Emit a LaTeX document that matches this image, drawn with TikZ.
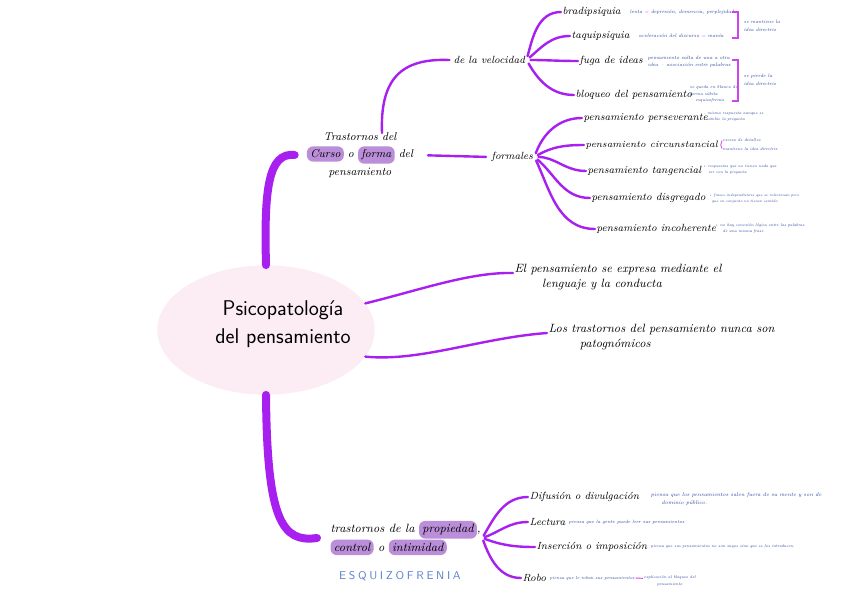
\documentclass[tikz,border=0pt]{standalone}
\usepackage{fontspec}
\usetikzlibrary{shapes.geometric,calc}
\definecolor{brc}{RGB}{168,32,240}
\definecolor{hlc}{RGB}{186,142,216}
\definecolor{pinkbg}{RGB}{252,236,244}
\definecolor{bluet}{RGB}{35,65,155}
\definecolor{pinkc}{RGB}{205,70,235}
\definecolor{esq}{RGB}{95,135,205}
\newcommand\hlw[1]{\tikz[baseline=(hw.base)]\node[shape=rectangle,anchor=base,fill=hlc,rounded corners=4.5pt,inner xsep=2.5pt,inner ysep=2.6pt](hw){#1};}
\newcommand\tsz[2]{\fontsize{#1}{#2}\selectfont}
\tikzset{
  br/.style={draw=brc, line width=1.8pt, line cap=round},
  trunk/.style={draw=brc, line width=6pt, line cap=round},
  lab/.style={font=\fontsize{7.8}{9}\selectfont\itshape, inner sep=1pt, anchor=west},
  big/.style={font=\fontsize{9}{11}\selectfont\itshape, inner sep=1pt},
  tiny/.style={text=bluet, inner sep=0.5pt, anchor=west, align=left},
  brk/.style={draw=pinkc, line width=0.8pt},
}
\begin{document}
\begin{tikzpicture}[x=0.75pt,y=-0.75pt]
\path[use as bounding box, fill=white] (0,0) rectangle (848,599);
% central
\node[ellipse, fill=pinkbg, minimum width=163pt, minimum height=97pt, inner sep=0pt] (blob) at (266,330) {};
\node[font=\sffamily\fontsize{16}{21}\selectfont, align=center] (title) at (283,324) {Psicopatología\\del pensamiento};
% upper branch
\node[big, align=center, font=\fontsize{8.5}{13}\selectfont\itshape] (trast) at (360,155) {Trastornos del\\\hlw{Curso} o \hlw{forma} del\\pensamiento};
\draw[trunk] (blob.north) .. controls (264,190) and (268,152) .. ([xshift=-8pt]trast.west);
\node[lab] (vel) at (452,60) {de la velocidad};
\node[lab] (form) at (490,157) {formales};
\draw[br] ($(trast.north)+(22,2)$) .. controls (380,80) and (400,58) .. ([xshift=-2pt]vel.west);
\draw[br, shorten <=10pt, shorten >=3pt] (trast.east) -- (form.west);
% velocidad
\node[lab] (brad) at (561,12) {bradipsiquia};
\node[lab] (taqui) at (570,36) {taquipsiquia};
\node[lab] (fuga) at (578,61) {fuga de ideas};
\node[lab] (bloq) at (574,95) {bloqueo del pensamiento};
\foreach \t/\o in {brad/75,taqui/40,fuga/0,bloq/-60}
  \draw[br, shorten <=3pt] (vel.east) to[out=\o,in=180] (\t.west);
\node[tiny, font=\tsz{3.7}{5.5}\itshape] (bradD) at (629,12) {lenta \textcolor{pinkc}{=} depresión, demencia, perplejidad};
\node[tiny, font=\tsz{3.7}{5.5}\itshape] (taquiD) at (638,36) {aceleración del discurso \textcolor{pinkc}{=} manía};
\node[tiny, font=\tsz{3.7}{5.5}\itshape] (fugaD) at (647,62) {pensamiento salta de una a otra\\idea · asociación entre palabras};
\node[tiny, font=\tsz{3.2}{4.8}\itshape] (bloqD) at (689,94) {se queda en blanco de\\forma súbita\\\textcolor{pinkc}{·} esquizofrenia};
\draw[brk] (732,12) -- (738,12) -- (738,38) -- (732,38);
\node[tiny, font=\tsz{3.6}{6}\itshape] (br1) at (743,26) {se mantiene la\\idea directriz};
\draw[brk] (732,60) -- (738,60) -- (738,101) -- (732,101);
\node[tiny, font=\tsz{3.6}{6}\itshape] (br2) at (743,80) {se pierde la\\idea directriz};
% formales
\node[lab] (pers) at (582,118) {pensamiento perseverante};
\node[lab, font=\fontsize{7.1}{9}\selectfont\itshape] (circ) at (584,145) {pensamiento circunstancial};
\node[lab] (tang) at (586,171) {pensamiento tangencial};
\node[lab] (disg) at (590,198) {pensamiento disgregado};
\node[lab] (inc) at (595,229) {pensamiento incoherente};
\foreach \t/\o in {pers/70,circ/30,tang/0,disg/-40,inc/-65}
  \draw[br, shorten <=3pt] (form.east) to[out=\o,in=180] (\t.west);
\node[tiny, font=\tsz{3}{4.5}\itshape] (persD) at (703,117) {\textcolor{pinkc}{-} misma respuesta aunque se\\\hspace*{0.6em}cambie la pregunta};
\node[tiny, font=\tsz{3.1}{6.5}\itshape] (circD) at (722,144.5) {exceso de detalles\\mantiene la idea directriz};
\draw[brk, line width=0.6pt] ([xshift=1pt]circ.east) -- ([yshift=3pt]circD.west) ([xshift=1pt]circ.east) -- ([yshift=-3pt]circD.west);
\node[tiny, font=\tsz{2.9}{4.5}\itshape] (tangD) at (702,170) {\textcolor{pinkc}{•} respuestas que no tienen nada que\\\hspace*{1.4em}ver con la pregunta};
\node[tiny, font=\tsz{2.8}{4.5}\itshape] (disgD) at (708,199) {\textcolor{pinkc}{•} frases independientes que se relacionan pero\\\hspace*{0.8em}que en conjunto no tienen sentido};
\node[tiny, font=\tsz{3}{4.5}\itshape] (incD) at (714,229) {\textcolor{pinkc}{•} no hay conexión lógica entre las palabras\\\hspace*{2em}de una misma frase};
% statements
\node[big, anchor=west, align=left] (st1) at (513,277) {El pensamiento se expresa mediante el\\\hspace*{2.3em}lenguaje y la conducta};
\node[big, anchor=west, align=left] (st2) at (547,337) {Los trastornos del pensamiento nunca son\\\hspace*{2.6em}patognómicos};
\draw[br] (blob.15) .. controls (420,290) and (470,272) .. ([yshift=3pt]st1.west);
\draw[br] (blob.-15) .. controls (420,362) and (480,338) .. ([yshift=3pt]st2.west);
% lower branch
\node[big, anchor=west, align=left, font=\fontsize{9}{14}\selectfont\itshape] (prop) at (329,538) {trastornos de la \hlw{propiedad},\\\hlw{control} o \hlw{intimidad}};
\draw[trunk] (blob.south) .. controls (267,520) and (282,543) .. ([xshift=-9pt]prop.west);
\node[font=\sffamily\fontsize{8.5}{9}\selectfont, text=esq, inner sep=1pt] (esqz) at (400,576) {E\kern2pt S\kern2pt Q\kern2pt U\kern2pt I\kern2pt Z\kern2pt O\kern2pt F\kern2pt R\kern2pt E\kern2pt N\kern2pt I\kern2pt A};
\node[lab] (dif) at (528,497) {Difusión o divulgación};
\node[lab] (lect) at (528,522) {Lectura};
\node[lab] (ins) at (535,547) {Inserción o imposición};
\node[lab] (robo) at (521,578) {Robo};
\foreach \t/\o in {dif/60,lect/20,ins/-20,robo/-70}
  \draw[br, shorten <=2pt] (prop.east) to[out=\o,in=180] (\t.west);
\node[tiny, font=\tsz{4}{6.5}\itshape] (difD) at (650,499) {piensa que los pensamientos salen fuera de su mente y son de\\\hspace*{2em}dominio público.};
\node[tiny, font=\tsz{3.5}{5}\itshape] (lectD) at (568,522) {piensa que la gente puede leer sus pensamientos};
\node[tiny, font=\tsz{3}{5}\itshape] (insD) at (650,547) {piensa que sus pensamientos no son suyos sino que se los introducen.};
\node[tiny, font=\tsz{3.3}{5}\itshape] (roboD) at (549,578) {piensa que le roban sus pensamientos};
\node[tiny, font=\tsz{3}{5}\itshape, align=center] (roboE) at (643,581) {explicación al bloqueo del\\pensamiento};
\draw[pinkc, line width=0.7pt] (roboD.east) -- ([yshift=2pt]roboE.west);
\end{tikzpicture}
\end{document}
